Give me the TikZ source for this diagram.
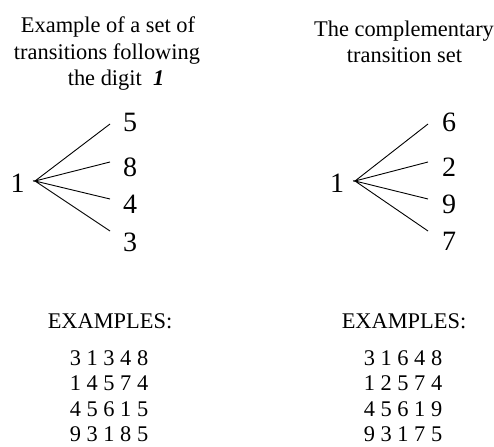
\documentclass[tikz,border=0pt]{standalone}
\usepackage{fontspec}
\setmainfont{Liberation Serif}
\begin{document}
\begin{tikzpicture}[x=1pt,y=-1pt,
  title/.style={anchor=base,inner sep=0pt,font=\fontsize{22.4}{26}\selectfont},
  big/.style={anchor=base,inner sep=0pt,font=\fontsize{28}{32}\selectfont},
  row/.style={anchor=base,inner sep=0pt,font=\fontsize{22.4}{26}\selectfont},
  edge/.style={line width=0.9pt}]
\useasboundingbox (0,0) rectangle (494,446);
% left titles
\node[title] (t1) at (108,33) {Example of a set of};
\node[title] (t2) at (107,59.5) {transitions following};
\node[title] (t3) at (116,86) {the digit\ \ \textbf{\textit{1}}};
% right titles
\node[title] (r1) at (404,37) {The complementary};
\node[title] (r2) at (404.5,63) {transition set};
% left tree
\node[big] (L1) at (17.5,193) {1};
\coordinate (Lh) at (35,181);
\node[big] (L5) at (130,132) {5};
\node[big] (L8) at (130,177) {8};
\node[big] (L4) at (130,213.5) {4};
\node[big] (L3) at (130,251) {3};
\coordinate (Le5) at (110,124);
\coordinate (Le8) at (110,162);
\coordinate (Le4) at (110,199);
\coordinate (Le3) at (110,231);
\draw[edge] (Le5) -- (Lh) -- (Le8);
\draw[edge] (Le4) -- (Lh) -- (Le3);
% right tree
\node[big] (R1) at (337,193) {1};
\coordinate (Rh) at (355,181);
\node[big] (R6) at (449,132) {6};
\node[big] (R2) at (449,176) {2};
\node[big] (R9) at (449,213.5) {9};
\node[big] (R7) at (449,250.5) {7};
\coordinate (Re6) at (428,124);
\coordinate (Re2) at (428,162);
\coordinate (Re9) at (428,199);
\coordinate (Re7) at (428,231);
\draw[edge] (Re6) -- (Rh) -- (Re2);
\draw[edge] (Re9) -- (Rh) -- (Re7);
% examples
\node[title] (le) at (110,328) {EXAMPLES:};
\node[title] (re) at (404,328) {EXAMPLES:};
\node[row] (la) at (109,365) {3 1 3 4 8};
\node[row] (lb) at (109,390.5) {1 4 5 7 4};
\node[row] (lc) at (109,416) {4 5 6 1 5};
\node[row] (ld) at (109,441) {9 3 1 8 5};
\node[row] (ra) at (403,365) {3 1 6 4 8};
\node[row] (rb) at (403,390.5) {1 2 5 7 4};
\node[row] (rc) at (403,416) {4 5 6 1 9};
\node[row] (rd) at (403,441) {9 3 1 7 5};
\end{tikzpicture}
\end{document}
